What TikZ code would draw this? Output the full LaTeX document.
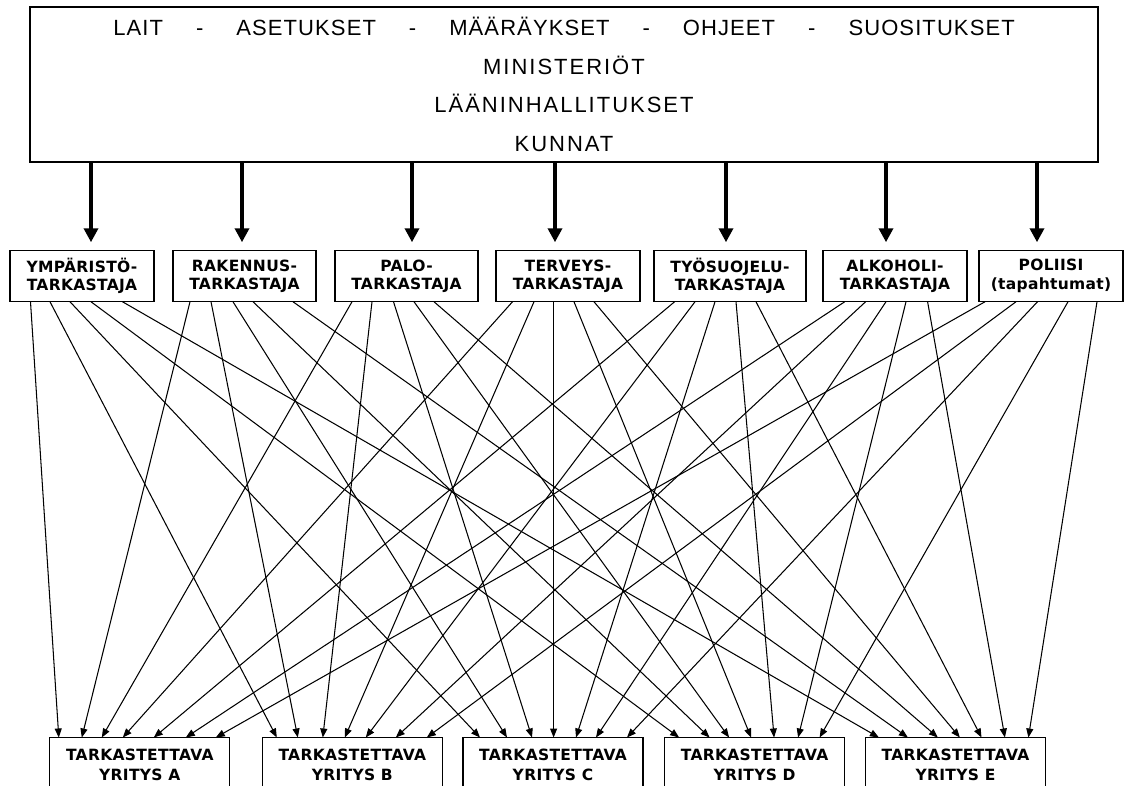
\documentclass[tikz,border=0pt]{standalone}
\usepackage{fontspec}
\setmainfont{Liberation Sans}
\newfontfamily\headfont{Liberation Sans}[LetterSpace=5]
\newfontfamily\orgfont{Liberation Sans}[LetterSpace=9]
\newfontfamily\boxfont{DejaVu Sans}[LetterSpace=2]
\usetikzlibrary{arrows.meta}

\begin{document}
\begin{tikzpicture}[x=1pt,y=-1pt,
  every node/.style={inner sep=0pt,outer sep=0pt},
  frame/.style={draw=black,line width=1.3pt,fill=white},
  inspector/.style={frame,minimum height=51.5pt,align=center,
    font=\boxfont\bfseries\fontsize{15.5}{18.3}\selectfont},
  company/.style={frame,minimum width=180pt,minimum height=55pt,align=center,
    font=\boxfont\bfseries\fontsize{15.5}{20}\selectfont},
  feed/.style={line width=4.5pt,-{Triangle[length=14pt,width=14pt]},shorten >=8pt},
  link/.style={line width=1.05pt,-{Triangle[length=9pt,width=7pt]}}]

\clip (0,0) rectangle (1125,785);
\fill[white] (0,0) rectangle (1125,785);

% authorities
\node[frame,minimum width=1068pt,minimum height=155pt,align=center,
  font=\fontsize{22}{38.5}\selectfont] (top) at (564,84.5)
  {{\headfont LAIT\hspace{33pt}-\hspace{33pt}ASETUKSET\hspace{33pt}-\hspace{33pt}MÄÄRÄYKSET\hspace{33pt}-\hspace{33pt}OHJEET\hspace{33pt}-\hspace{33pt}SUOSITUKSET}\\
   {\orgfont MINISTERIÖT}\\
   {\orgfont LÄÄNINHALLITUKSET}\\
   {\orgfont KUNNAT}};

% inspectors
\node[inspector,minimum width=144pt] (m1) at (82,276)   {YMPÄRISTÖ-\\TARKASTAJA};
\node[inspector,minimum width=143pt] (m2) at (244.5,276) {RAKENNUS-\\TARKASTAJA};
\node[inspector,minimum width=143pt] (m3) at (406.5,276) {PALO-\\TARKASTAJA};
\node[inspector,minimum width=144pt] (m4) at (568,276)   {TERVEYS-\\TARKASTAJA};
\node[inspector,minimum width=152pt] (m5) at (730,276)   {TYÖSUOJELU-\\TARKASTAJA};
\node[inspector,minimum width=144pt] (m6) at (895,276)   {ALKOHOLI-\\TARKASTAJA};
\node[inspector,minimum width=144pt] (m7) at (1051,276)  {POLIISI\\(tapahtumat)};

% inspected companies
\node[company] (b1) at (139.8,765) {TARKASTETTAVA\\YRITYS A};
\node[company] (b2) at (352.3,765) {TARKASTETTAVA\\YRITYS B};
\node[company] (b3) at (553,765)   {TARKASTETTAVA\\YRITYS C};
\node[company] (b4) at (754.6,765) {TARKASTETTAVA\\YRITYS D};
\node[company] (b5) at (955.5,765) {TARKASTETTAVA\\YRITYS E};

% guidance from the authorities
\draw[feed] ([xshift=9pt]m1.north |- top.south) -- ([xshift=9pt]m1.north);
\draw[feed] ([xshift=-2.5pt]m2.north |- top.south) -- ([xshift=-2.5pt]m2.north);
\draw[feed] ([xshift=5.5pt]m3.north |- top.south) -- ([xshift=5.5pt]m3.north);
\draw[feed] ([xshift=-13pt]m4.north |- top.south) -- ([xshift=-13pt]m4.north);
\draw[feed] ([xshift=-4pt]m5.north |- top.south) -- ([xshift=-4pt]m5.north);
\draw[feed] ([xshift=-9pt]m6.north |- top.south) -- ([xshift=-9pt]m6.north);
\draw[feed] ([xshift=-14pt]m7.north |- top.south) -- ([xshift=-14pt]m7.north);

% every inspector visits every company
\def\startoff{{20.5,40,60,81,112.5, 17,38,60,80,120, 17,37,58.5,79,99, 16.5,38,57.6,78,98, 20.6,41,61,82,102, 21.7,42.6,63,83,104.6, 6,37,58.5,89,118}}
\def\endoff{{9,32,52,73,104,136,166, 14.5,35.5,60.5,82.5,103.5,133.5,164.5, 17,44,69,90.6,113,133,164, 14.5,45,64.5,86.5,109.5,133.5,155, 13.4,42.4,72.4,94.4,116,139.4,162.9}}
\foreach \i in {1,...,7}{
  \foreach \j in {1,...,5}{
    \pgfmathtruncatemacro\ks{(\i-1)*5+\j-1}
    \pgfmathtruncatemacro\ke{(\j-1)*7+\i-1}
    \pgfmathsetmacro\so{\startoff[\ks]}
    \pgfmathsetmacro\eo{\endoff[\ke]}
    \draw[link] ([xshift=\so pt]m\i.south west) -- ([xshift=\eo pt]b\j.north west);
  }
}
\end{tikzpicture}
\end{document}
